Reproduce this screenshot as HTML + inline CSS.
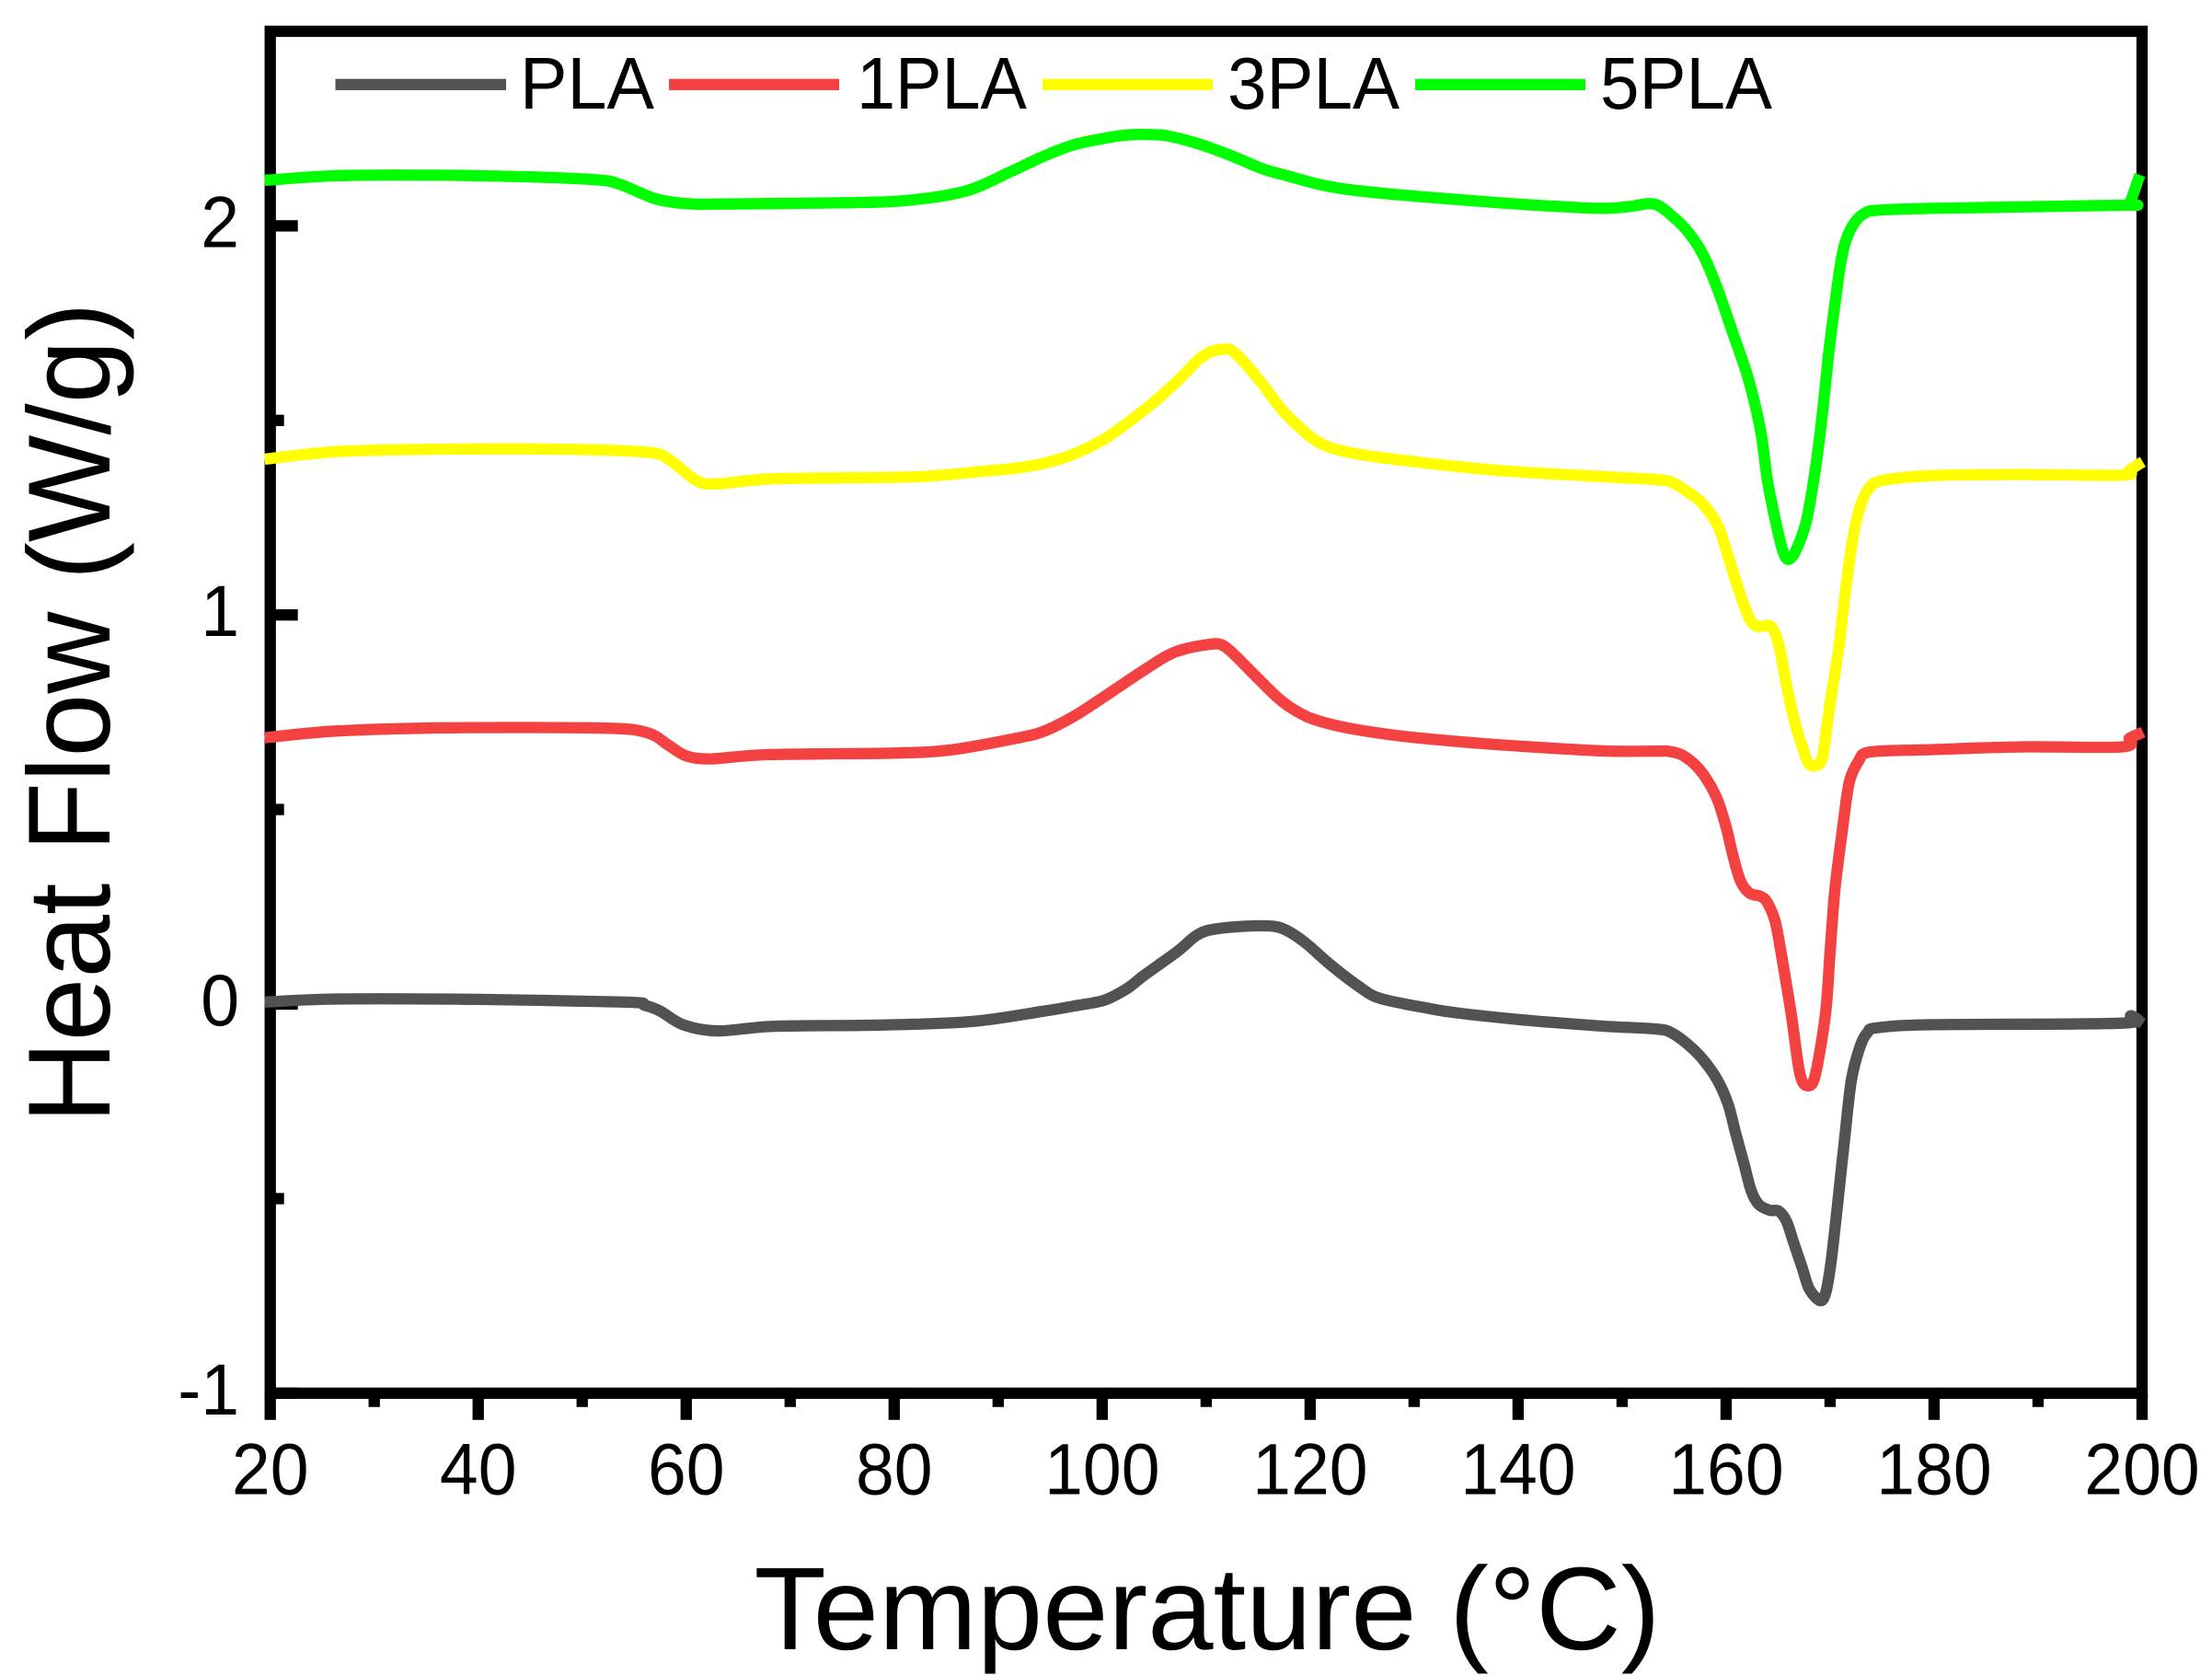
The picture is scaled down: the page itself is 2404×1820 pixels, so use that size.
<!DOCTYPE html>
<html lang="en">
<head>
<meta charset="utf-8">
<title>DSC heat flow curves</title>
<style>
html,body{margin:0;padding:0;background:#fff;width:2404px;height:1820px;overflow:hidden}
svg{display:block;font-family:"Liberation Sans",Arial,sans-serif}
</style>
</head>
<body>
<svg id="chart" xmlns="http://www.w3.org/2000/svg" width="2404" height="1820" viewBox="0 0 2404 1820">
  <rect x="0" y="0" width="2404" height="1820" fill="#fff"/>
  <g id="axes"></g>
  <g id="series"></g>
  <g font-size="80" fill="#000">
    <g>
      <rect x="364.5" y="85.7" width="185.5" height="12.3" fill="#525252"/>
      <text x="565" y="118" textLength="146" lengthAdjust="spacingAndGlyphs">PLA</text>
    </g>
    <g>
      <rect x="727" y="85.7" width="185" height="12.3" fill="#f44141"/>
      <text x="931" y="118" textLength="185" lengthAdjust="spacingAndGlyphs">1PLA</text>
    </g>
    <g>
      <rect x="1133" y="85.7" width="185" height="12.3" fill="#ffff00"/>
      <text x="1334" y="118" textLength="187" lengthAdjust="spacingAndGlyphs">3PLA</text>
    </g>
    <g>
      <rect x="1538" y="85.7" width="185" height="12.3" fill="#00ff00"/>
      <text x="1739" y="118" textLength="187" lengthAdjust="spacingAndGlyphs">5PLA</text>
    </g>
  </g>
  <text x="1312" y="1792" font-size="128" text-anchor="middle" textLength="985" lengthAdjust="spacingAndGlyphs">Temperature (°C)</text>
  <text transform="translate(119 774.5) rotate(-90)" font-size="127" text-anchor="middle" textLength="892" lengthAdjust="spacingAndGlyphs">Heat Flow (W/g)</text>
</svg>
<script>
const xMajorTicks = [20, 40, 60, 80, 100, 120, 140, 160, 180, 200];
const xMinorTicks = [30, 50, 70, 90, 110, 130, 150, 170, 190];
const yMajorTicks = [-1, 0, 1, 2];
const yMinorTicks = [-0.5, 0.5, 1.5];
const xDomain = [20, 200];
const yDomain = [-1, 2.5];

const tempPLA = [20,26.5,40,54.3,56,57.5,59.7,63,68.5,78.6,87.4,94.2,97.5,100.2,102.4,104,107.27,109,110.5,113.76,116.4,117.9,119.66,122,124.7,126.7,131.16,134.2,141,147.8,153.26,154.7,156.2,157.7,159.16,160.2,160.9,161.7,162.4,163.14,164.2,165.06,165.8,166.5,167.3,168,169.04,169.6,170.1,170.7,171.4,172.05,172.9,173.6,174.5,179.8,198.1,198.9,199.6];
const flowPLA = [0.006,0.013,0.012,0.005,-0.003,-0.018,-0.053,-0.069,-0.057,-0.054,-0.045,-0.019,-0.004,0.01,0.04,0.073,0.136,0.175,0.191,0.2,0.2,0.187,0.155,0.1,0.045,0.015,-0.01,-0.023,-0.042,-0.056,-0.064,-0.073,-0.101,-0.14,-0.195,-0.258,-0.33,-0.408,-0.479,-0.515,-0.53,-0.532,-0.558,-0.613,-0.676,-0.732,-0.762,-0.74,-0.661,-0.519,-0.345,-0.195,-0.108,-0.073,-0.061,-0.053,-0.049,-0.03,-0.042];

const temp1PLA = [20,26.5,37.3,52.2,56.3,58.3,60,62.4,67.8,80,85.4,91.34,94.3,97.24,100.2,103.1,106.1,107.86,110.2,111.4,112.6,114.94,117.3,119.66,122,125,129.7,137.4,147.8,153.26,154.4,155.77,157.24,158.33,159.22,160.04,160.6,161.37,162.26,163.3,163.94,164.7,165.27,166.24,167.1,167.9,168.6,169.57,170,170.46,171.2,171.84,172.73,173.9,179.8,188.6,198.1,198.8,199.6];
const flow1PLA = [0.686,0.702,0.71,0.709,0.697,0.665,0.638,0.63,0.641,0.645,0.653,0.681,0.7,0.739,0.79,0.842,0.893,0.912,0.924,0.924,0.901,0.838,0.778,0.739,0.719,0.703,0.686,0.668,0.651,0.65,0.65,0.64,0.609,0.569,0.522,0.451,0.388,0.317,0.285,0.277,0.262,0.214,0.135,-0.022,-0.18,-0.21,-0.18,-0.022,0.135,0.293,0.451,0.569,0.624,0.648,0.654,0.661,0.661,0.683,0.693];

const temp3PLA = [20,26.5,36,48.2,56.3,58.3,61,63,68.5,82,88.8,91.34,94.3,97.24,100.2,103.1,105.5,107.27,109.3,110.5,111.4,112.4,113.8,115.5,117.3,119.4,120.8,122.6,126.7,137.4,147.8,153.26,154.7,156.2,157.7,159.16,160,160.9,161.8,162.4,163.1,164.3,165.06,165.8,166.5,167.3,167.9,168.54,169.2,169.6,170.1,170.8,171.1,171.58,172.2,172.9,173.76,175.1,179.8,188.6,198.1,198.8,199.6];
const flow3PLA = [1.402,1.42,1.426,1.426,1.418,1.4,1.345,1.337,1.35,1.355,1.37,1.376,1.389,1.413,1.452,1.507,1.559,1.602,1.657,1.677,1.682,1.681,1.645,1.59,1.527,1.472,1.444,1.425,1.405,1.373,1.356,1.348,1.342,1.318,1.287,1.232,1.168,1.09,1.019,0.983,0.97,0.97,0.924,0.821,0.735,0.664,0.62,0.612,0.628,0.695,0.79,0.908,0.975,1.082,1.2,1.279,1.326,1.346,1.358,1.361,1.359,1.372,1.386];

const temp5PLA = [20,26.5,36,44.8,51.5,53.6,57,60,63,73.9,80.7,86.8,91.34,94.3,97.24,100.2,102.55,105.2,106.7,109.6,112.6,115.5,117.9,120.8,123.8,129.7,137.4,142.3,147.8,150.5,152.5,153.5,154.7,156.2,157.7,159.16,160.6,162.1,163.3,164,164.9,165.5,166,166.7,167.7,168.54,169.25,169.87,170.43,171,171.55,172.35,173.3,174.5,179.8,198.1,198.8,199.6];
const flow5PLA = [2.118,2.129,2.13,2.126,2.118,2.107,2.07,2.057,2.056,2.059,2.064,2.089,2.141,2.178,2.208,2.225,2.234,2.234,2.229,2.208,2.178,2.146,2.128,2.107,2.093,2.077,2.061,2.052,2.045,2.049,2.057,2.052,2.028,1.989,1.93,1.839,1.728,1.61,1.476,1.342,1.224,1.161,1.143,1.165,1.24,1.366,1.516,1.673,1.792,1.902,1.965,2.008,2.032,2.04,2.045,2.053,2.059,2.117];

const plotLeft = 293.7, plotRight = 2328, plotTop = 34, plotBottom = 1513.8;
const NS = 'http://www.w3.org/2000/svg';

function xScale(t) {
  return plotLeft + (t - xDomain[0]) / (xDomain[1] - xDomain[0]) * (plotRight - plotLeft);
}
function yScale(v) {
  return plotBottom - (v - yDomain[0]) / (yDomain[1] - yDomain[0]) * (plotBottom - plotTop);
}
function make(tag, parent, attrs) {
  const el = document.createElementNS(NS, tag);
  for (const k in attrs) el.setAttribute(k, attrs[k]);
  parent.appendChild(el);
  return el;
}
function curvePath(ts, vs) {
  const p = ts.map((t, i) => [xScale(t), yScale(vs[i])]);
  let d = 'M' + p[0][0].toFixed(1) + ' ' + p[0][1].toFixed(1);
  const k = 0.16;
  for (let i = 0; i < p.length - 1; i++) {
    const a = p[Math.max(0, i - 1)], b = p[i], c = p[i + 1], e = p[Math.min(p.length - 1, i + 2)];
    const c1x = b[0] + (c[0] - a[0]) * k, c1y = b[1] + (c[1] - a[1]) * k;
    const c2x = c[0] - (e[0] - b[0]) * k, c2y = c[1] - (e[1] - b[1]) * k;
    d += 'C' + c1x.toFixed(1) + ' ' + c1y.toFixed(1) + ' ' + c2x.toFixed(1) + ' ' + c2y.toFixed(1) + ' ' + c[0].toFixed(1) + ' ' + c[1].toFixed(1);
  }
  return d;
}
function labelWidth(s) {
  let w = 0;
  for (const ch of s) w += ch === '-' ? 25 : 41.8;
  return w;
}

const axes = document.getElementById('axes');
const seriesGroup = document.getElementById('series');

const frame = make('rect', axes, {x: plotLeft, y: plotTop, width: plotRight - plotLeft, height: plotBottom - plotTop, fill: 'none', stroke: '#000', 'stroke-width': 12.3});



xMajorTicks.forEach(function (t) {
  const tick = make('rect', axes, {x: xScale(t) - 6.15, y: plotBottom, width: 12.3, height: 29, fill: '#000'});
  
  
  const text = String(t);
  const label = make('text', axes, {x: xScale(t), y: 1623.5, 'font-size': 79, 'text-anchor': 'middle', textLength: labelWidth(text), lengthAdjust: 'spacingAndGlyphs'});
  
  
  label.textContent = text;
});
xMinorTicks.forEach(function (t) {
  const tick = make('rect', axes, {x: xScale(t) - 6.15, y: plotBottom, width: 12.3, height: 15, fill: '#000'});
  
  
});
yMajorTicks.forEach(function (v) {
  const tick = make('rect', axes, {x: plotLeft, y: yScale(v) - 6.15, width: 30, height: 12.3, fill: '#000'});
  
  
  const text = String(v);
  const label = make('text', axes, {x: 260, y: yScale(v) + 23, 'font-size': 79, 'text-anchor': 'end', textLength: labelWidth(text), lengthAdjust: 'spacingAndGlyphs'});
  
  
  label.textContent = text;
});
yMinorTicks.forEach(function (v) {
  const tick = make('rect', axes, {x: plotLeft, y: yScale(v) - 6.15, width: 15, height: 12.3, fill: '#000'});
  
  
});

const linePLA = make('path', seriesGroup, {d: curvePath(tempPLA, flowPLA), fill: 'none', stroke: '#525252', 'stroke-width': 12.3, 'stroke-linejoin': 'round', 'stroke-linecap': 'square'});



const line1PLA = make('path', seriesGroup, {d: curvePath(temp1PLA, flow1PLA), fill: 'none', stroke: '#f44141', 'stroke-width': 12.3, 'stroke-linejoin': 'round', 'stroke-linecap': 'square'});



const line3PLA = make('path', seriesGroup, {d: curvePath(temp3PLA, flow3PLA), fill: 'none', stroke: '#ffff00', 'stroke-width': 12.3, 'stroke-linejoin': 'round', 'stroke-linecap': 'square'});



const line5PLA = make('path', seriesGroup, {d: curvePath(temp5PLA, flow5PLA), fill: 'none', stroke: '#00ff00', 'stroke-width': 12.3, 'stroke-linejoin': 'round', 'stroke-linecap': 'square'});


</script>
</body>
</html>
